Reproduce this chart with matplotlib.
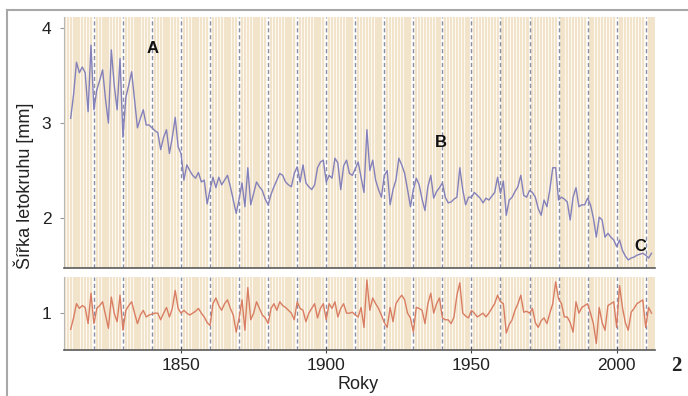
import numpy as np
import matplotlib
matplotlib.use("Agg")
import matplotlib.pyplot as plt
from matplotlib.lines import Line2D

plt.rcParams['font.family'] = ['Liberation Sans', 'DejaVu Sans']

first_year = 1812
# tree-ring width [mm], one value per year, 1812-2012
ring_width = [
    3.05, 3.30, 3.64, 3.53, 3.59, 3.53, 3.12, 3.82,
    3.14, 3.35, 3.45, 3.56, 3.25, 3.00, 3.77, 3.40, 3.14, 3.68,
    2.85, 3.27, 3.40, 3.54, 3.25, 2.95, 3.05, 3.14, 2.98, 2.98,
    2.95, 2.92, 2.90, 2.72, 2.85, 2.93, 2.68, 2.85, 3.06, 2.75,
    2.68, 2.40, 2.56, 2.50, 2.45, 2.42, 2.48, 2.38, 2.40, 2.15,
    2.30, 2.43, 2.32, 2.43, 2.35, 2.40, 2.45, 2.33, 2.19, 2.05,
    2.20, 2.37, 2.12, 2.53, 2.14, 2.26, 2.38, 2.33, 2.29, 2.20,
    2.14, 2.25, 2.33, 2.40, 2.47, 2.45, 2.38, 2.35, 2.33, 2.47,
    2.54, 2.38, 2.56, 2.37, 2.33, 2.30, 2.35, 2.53, 2.59, 2.61,
    2.38, 2.45, 2.42, 2.63, 2.58, 2.30, 2.55, 2.61, 2.47, 2.45,
    2.52, 2.59, 2.43, 2.27, 2.93, 2.50, 2.61, 2.40, 2.30, 2.22,
    2.45, 2.50, 2.14, 2.30, 2.40, 2.63, 2.56, 2.47, 2.30, 2.12,
    2.30, 2.42, 2.35, 2.20, 2.08, 2.33, 2.45, 2.21, 2.28, 2.32,
    2.37, 2.22, 2.16, 2.17, 2.20, 2.22, 2.53, 2.30, 2.14, 2.22,
    2.22, 2.27, 2.24, 2.21, 2.16, 2.21, 2.19, 2.23, 2.27, 2.43,
    2.26, 2.39, 2.03, 2.19, 2.22, 2.28, 2.33, 2.45, 2.24, 2.22,
    2.29, 2.27, 2.22, 2.10, 2.03, 2.19, 2.12, 2.30, 2.53, 2.53,
    2.19, 2.22, 2.20, 2.17, 1.98, 2.22, 2.32, 2.12, 2.14, 2.14,
    2.21, 2.14, 2.00, 1.80, 2.01, 1.98, 1.80, 1.84, 1.80, 1.77,
    1.70, 1.77, 1.66, 1.60, 1.56, 1.58, 1.59, 1.61, 1.62, 1.63,
    1.61, 1.58, 1.63,
]
# standardised ring-width index, 1812-2012
ring_index = [
    0.83, 0.95, 1.10, 1.05, 1.08, 1.06, 0.89, 1.21,
    0.89, 1.05, 1.08, 1.12, 0.98, 0.84, 1.17, 1.00, 0.91, 1.19,
    0.82, 1.03, 1.08, 1.12, 1.00, 0.89, 0.98, 1.03, 0.96, 0.98,
    0.99, 1.00, 1.00, 0.93, 1.00, 1.06, 0.96, 1.05, 1.24, 1.05,
    1.00, 1.03, 1.00, 0.98, 1.00, 1.02, 1.05, 1.00, 0.96, 0.90,
    0.87, 1.10, 1.16, 1.08, 1.03, 1.10, 1.14, 1.05, 0.98, 0.80,
    0.95, 1.14, 0.82, 1.27, 0.93, 1.00, 1.12, 1.05, 0.98, 0.95,
    0.89, 1.05, 1.10, 1.03, 1.12, 1.08, 1.06, 1.03, 1.00, 0.93,
    1.12, 1.05, 1.03, 0.91, 1.00, 1.05, 1.10, 0.95, 1.05, 1.10,
    0.93, 1.10, 1.05, 1.12, 0.96, 1.05, 1.10, 1.00, 1.00, 1.01,
    0.98, 0.96, 1.06, 0.85, 1.35, 1.03, 1.16, 1.10, 1.05, 0.98,
    0.90, 0.85, 1.06, 0.91, 1.10, 1.15, 1.19, 1.14, 1.00, 0.95,
    0.80, 1.06, 1.05, 1.03, 0.89, 1.10, 1.21, 1.00, 1.10, 1.16,
    0.95, 0.93, 0.93, 0.89, 0.96, 1.19, 1.32, 1.00, 0.97, 0.95,
    1.03, 1.00, 0.96, 0.98, 1.00, 0.96, 1.00, 1.05, 1.10, 1.19,
    1.12, 1.10, 0.79, 0.88, 0.93, 1.03, 1.10, 1.19, 1.01, 1.02,
    1.00, 1.05, 0.90, 0.85, 0.92, 0.95, 0.89, 1.00, 1.10, 1.33,
    1.15, 1.10, 0.96, 0.96, 0.90, 0.80, 1.12, 1.00, 1.06, 1.08,
    1.10, 1.00, 0.89, 0.68, 1.06, 0.90, 0.82, 1.08, 1.10, 1.12,
    0.85, 1.29, 1.06, 0.90, 0.82, 1.01, 1.05, 1.10, 1.12, 1.14,
    0.85, 1.06, 1.00,
]
years = np.arange(first_year, first_year + len(ring_width))
decades = list(range(1820, 2011, 10))
xticks = [1850, 1900, 1950, 2000]
labels = [("A", 1840.3, 3.79), ("B", 1939.4, 2.80), ("C", 2008.2, 1.70)]

x0, x1 = 1809.7, 2013.2
stripe_years = np.arange(1810, 2014)

fig = plt.figure(figsize=(6.88, 3.96), dpi=100)
ax1 = fig.add_axes([0.093, 0.323, 0.859, 0.634])
ax2 = fig.add_axes([0.093, 0.116, 0.859, 0.184])

for ax, ylim in ((ax1, (1.474, 4.116)), (ax2, (0.611, 1.379))):
    ax.set_facecolor('#fdf9f2')
    ax.bar(stripe_years, ylim[1] - ylim[0], bottom=ylim[0], width=0.72,
           color='#f1e4cb', linewidth=0, zorder=0)
    for d in decades:
        ax.axvline(d, color='white', lw=1.6, zorder=1)
        ax.axvline(d, color='#8a8ea2', lw=1.0, ls=(0, (3, 2)), zorder=1)
    ax.set_xlim(x0, x1)
    ax.set_ylim(*ylim)
    for s in ('top', 'right'):
        ax.spines[s].set_visible(False)
    ax.spines['left'].set_color('#b8b8b8')
    ax.spines['left'].set_linewidth(0.8)
    ax.spines['bottom'].set_color('#5a5a5a')
    ax.spines['bottom'].set_linewidth(1.2)
    ax.tick_params(axis='y', length=3, color='#999999', labelsize=12.5,
                   pad=6, labelcolor='#222222')

ax1.plot(years, ring_width, color='#8480ba', lw=1.0, zorder=3)
ax2.plot(years, ring_index, color='#d97d62', lw=1.0, zorder=3)

ax1.set_yticks([2, 3, 4])
ax1.set_xticks([])
ax2.set_yticks([1])
ax2.set_xticks(xticks)
ax2.tick_params(axis='x', length=4, direction='inout', color='#444444',
                labelsize=12.5, labelcolor='#222222', pad=4)

for txt, xx, yy in labels:
    ax1.text(xx, yy, txt, fontsize=12, fontweight='bold', ha='center',
             va='center', color='#111111', zorder=4)

fig.text(0.034, 0.53, "Šířka letokruhu [mm]", rotation=90, fontsize=13,
         ha='center', va='center', color='#222222')
fig.text(0.52, 0.03, "Roky", fontsize=13, ha='center', va='center',
         color='#222222')
fig.text(0.983, 0.075, "2", fontsize=15, fontweight='bold',
         family='Liberation Serif', ha='center', va='center', color='#222222')

fig.add_artist(Line2D([0.010, 1.0], [0.975, 0.975], color='#a8a8a8', lw=1.5))
fig.add_artist(Line2D([0.010, 0.010], [0.0, 0.975], color='#a8a8a8', lw=1.5))

fig.savefig("out.png", dpi=100)
